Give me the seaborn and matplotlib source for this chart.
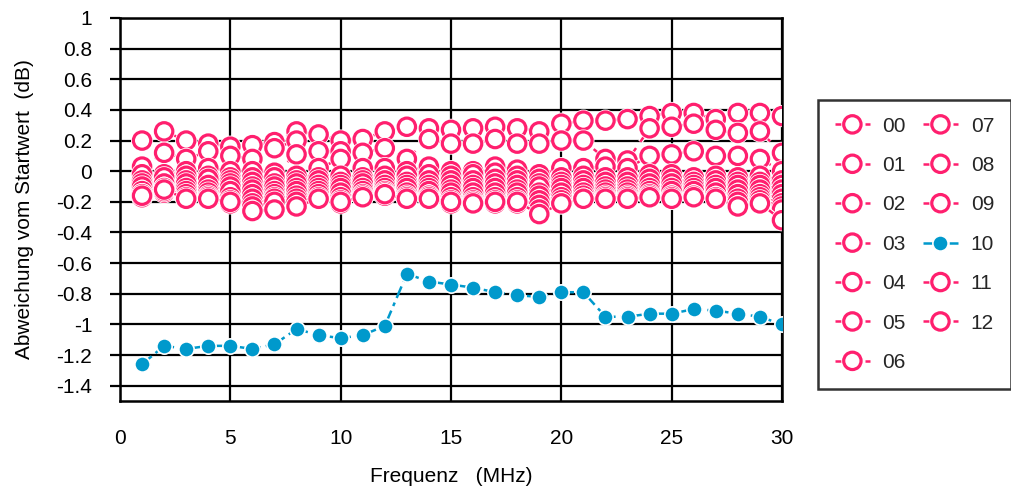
import numpy as np
import pandas as pd
import matplotlib
matplotlib.use("Agg")
import matplotlib.pyplot as plt
import matplotlib.patheffects as pe
import seaborn as sns

freq = list(range(1, 31))

s00 = [0.20, 0.26, 0.20, 0.18, 0.16, 0.17, 0.19, 0.26, 0.24, 0.20, 0.21, 0.26, 0.29, 0.28, 0.27,
       0.28, 0.29, 0.28, 0.26, 0.31, 0.33, 0.33, 0.34, 0.36, 0.38, 0.38, 0.34, 0.38, 0.38, 0.36]
s01 = [0.03, 0.12, 0.08, 0.13, 0.10, 0.08, 0.15, 0.20, 0.13, 0.13, 0.12, 0.15, 0.08, 0.21, 0.18,
       0.18, 0.21, 0.18, 0.18, 0.20, 0.20, 0.08, 0.07, 0.28, 0.29, 0.31, 0.27, 0.25, 0.26, 0.12]
s02 = [-0.02, -0.02, 0.00, 0.02, 0.00, 0.00, -0.01, 0.11, 0.02, 0.08, 0.02, 0.02, 0.00, 0.03, 0.00,
       0.00, 0.03, 0.01, -0.02, 0.02, 0.02, 0.03, 0.02, 0.10, 0.11, 0.13, 0.10, 0.10, 0.08, 0.00]
s03 = [-0.06, -0.04, -0.03, -0.03, -0.04, -0.04, -0.04, -0.03, -0.04, -0.03, -0.04, -0.03, -0.03, -0.02, -0.03,
       -0.02, -0.01, -0.03, -0.05, -0.04, -0.03, -0.04, -0.04, -0.02, -0.02, -0.04, -0.03, -0.04, -0.03, -0.06]
s04 = [-0.08, -0.08, -0.06, -0.05, -0.06, -0.07, -0.08, -0.06, -0.06, -0.07, -0.06, -0.06, -0.07, -0.06, -0.06,
       -0.06, -0.05, -0.06, -0.08, -0.07, -0.06, -0.07, -0.07, -0.05, -0.05, -0.07, -0.06, -0.07, -0.07, -0.09]
s05 = [-0.10, -0.11, -0.08, -0.09, -0.08, -0.10, -0.10, -0.08, -0.09, -0.09, -0.08, -0.09, -0.09, -0.09, -0.09,
       -0.09, -0.08, -0.09, -0.10, -0.09, -0.09, -0.10, -0.10, -0.08, -0.08, -0.09, -0.09, -0.09, -0.09, -0.12]
s06 = [-0.13, -0.13, -0.11, -0.12, -0.10, -0.12, -0.13, -0.11, -0.11, -0.11, -0.11, -0.11, -0.11, -0.11, -0.12,
       -0.11, -0.11, -0.12, -0.14, -0.11, -0.11, -0.12, -0.12, -0.11, -0.11, -0.11, -0.11, -0.12, -0.12, -0.15]
s07 = [-0.15, -0.14, -0.13, -0.14, -0.13, -0.15, -0.15, -0.13, -0.13, -0.14, -0.13, -0.13, -0.14, -0.13, -0.14,
       -0.14, -0.14, -0.14, -0.16, -0.14, -0.14, -0.14, -0.14, -0.13, -0.13, -0.13, -0.14, -0.15, -0.15, -0.18]
s08 = [-0.16, -0.12, -0.15, -0.16, -0.17, -0.18, -0.17, -0.16, -0.15, -0.17, -0.15, -0.14, -0.16, -0.16, -0.17,
       -0.17, -0.17, -0.17, -0.19, -0.17, -0.16, -0.16, -0.16, -0.15, -0.16, -0.16, -0.17, -0.18, -0.17, -0.21]
s09 = [-0.17, -0.13, -0.18, -0.18, -0.19, -0.21, -0.18, -0.18, -0.18, -0.19, -0.17, -0.15, -0.18, -0.18, -0.19,
       -0.19, -0.19, -0.19, -0.22, -0.19, -0.18, -0.18, -0.18, -0.17, -0.18, -0.17, -0.18, -0.20, -0.19, -0.23]
s10 = [-1.26, -1.14, -1.16, -1.14, -1.14, -1.16, -1.13, -1.03, -1.07, -1.09, -1.07, -1.01, -0.67, -0.72, -0.74,
       -0.76, -0.79, -0.81, -0.82, -0.79, -0.79, -0.95, -0.95, -0.93, -0.93, -0.90, -0.91, -0.93, -0.95, -1.00]
s11 = [-0.15, -0.11, -0.17, -0.17, -0.21, -0.23, -0.20, -0.20, -0.17, -0.21, -0.16, -0.16, -0.17, -0.17, -0.21,
       -0.20, -0.21, -0.21, -0.25, -0.21, -0.18, -0.17, -0.17, -0.16, -0.17, -0.16, -0.17, -0.23, -0.21, -0.25]
s12 = [-0.16, -0.12, -0.18, -0.18, -0.20, -0.26, -0.25, -0.23, -0.18, -0.20, -0.17, -0.15, -0.18, -0.18, -0.20,
       -0.21, -0.20, -0.20, -0.28, -0.21, -0.18, -0.18, -0.18, -0.17, -0.18, -0.17, -0.18, -0.23, -0.21, -0.32]

series_names = ["00", "01", "02", "03", "04", "05", "06", "07", "08", "09", "10", "11", "12"]
series_values = [s00, s01, s02, s03, s04, s05, s06, s07, s08, s09, s10, s11, s12]

x_ticks = [0, 5, 10, 15, 20, 25, 30]
y_ticks = [-1.4, -1.2, -1.0, -0.8, -0.6, -0.4, -0.2, 0.0, 0.2, 0.4, 0.6, 0.8, 1.0]
y_tick_labels = ["-1.4", "-1.2", "-1", "-0.8", "-0.6", "-0.4", "-0.2", "0", "0.2", "0.4", "0.6", "0.8", "1"]

PINK = "#FF1F6E"
BLUE = "#0099CC"
FS = 15

df = pd.DataFrame({
    "Frequenz": np.tile(freq, len(series_names)),
    "Wert": np.concatenate(series_values),
    "Messung": np.repeat(series_names, len(freq)),
})

sns.set_theme(style="white")
plt.rcParams["font.family"] = ["Liberation Sans", "DejaVu Sans"]
plt.rcParams["font.size"] = FS

fig = plt.figure(figsize=(10.11, 4.88), dpi=100)
ax = fig.add_axes([120 / 1011, 1 - 401 / 488, 662 / 1011, 383 / 488])

halo = [pe.Stroke(linewidth=3.5, foreground="white"), pe.Normal()]

for name in series_names:
    sub = df[df["Messung"] == name]
    if name == "10":
        sns.lineplot(data=sub, x="Frequenz", y="Wert", ax=ax, label=name,
                     color=BLUE, linewidth=1.8, dashes=False,
                     linestyle=(0, (5, 2, 1.5, 2)),
                     marker="o", markersize=11, markerfacecolor=BLUE,
                     markeredgecolor="white", markeredgewidth=1.2, zorder=4)
    else:
        sns.lineplot(data=sub, x="Frequenz", y="Wert", ax=ax, label=name,
                     color=PINK, linewidth=1.8, dashes=False,
                     linestyle=(0, (3, 3)),
                     marker="o", markersize=12.5, markerfacecolor="white",
                     markeredgecolor=PINK, markeredgewidth=2.3,
                     path_effects=halo, zorder=3)

ax.set_xlim(0, 30)
ax.set_ylim(-1.5, 1.0)
ax.set_xticks(x_ticks)
ax.set_xticklabels([str(t) for t in x_ticks])
ax.set_yticks(y_ticks)
ax.set_yticklabels(y_tick_labels)

ax.grid(True, color="black", linewidth=1.6)
ax.set_axisbelow(True)
for sp in ax.spines.values():
    sp.set_visible(True)
    sp.set_color("black")
    sp.set_linewidth(1.8)

ax.tick_params(axis="y", direction="out", length=7, width=1.6, color="black",
               pad=13, labelsize=FS, labelcolor="black", left=True)
ax.tick_params(axis="x", length=0, pad=20, labelsize=FS, labelcolor="black")

ax.set_xlabel("Frequenz   (MHz)", fontsize=FS, color="black", labelpad=14)
ax.set_ylabel("Abweichung vom Startwert  (dB)", fontsize=FS, color="black", labelpad=16)

handles, labels = ax.get_legend_handles_labels()
if ax.get_legend():
    ax.get_legend().remove()
leg = fig.legend(handles, labels, ncol=2, loc="upper left",
                 bbox_to_anchor=(818 / 1011, 1 - 100 / 488),
                 bbox_transform=fig.transFigure,
                 frameon=True, fancybox=False, edgecolor="black",
                 fontsize=FS, handlelength=1.7, handletextpad=0.6,
                 columnspacing=0.8, labelspacing=0.98, borderpad=0.8,
                 borderaxespad=0)
leg.get_frame().set_linewidth(1.8)

fig.savefig("out.png", dpi=100)
